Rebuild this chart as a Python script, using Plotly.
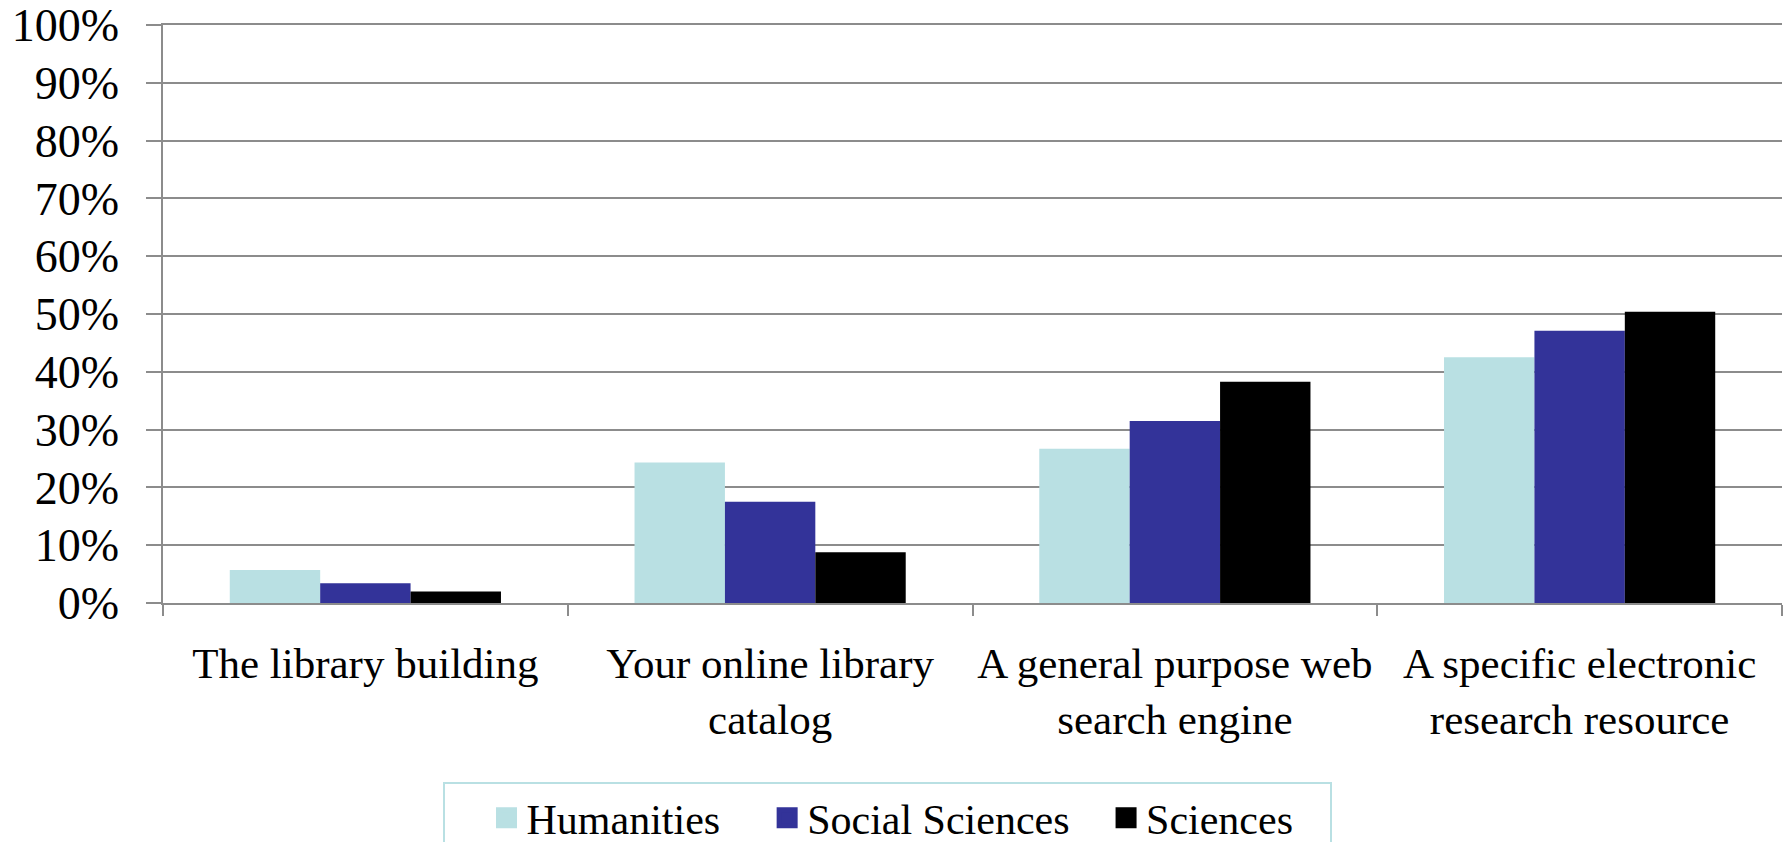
import plotly.graph_objects as go

categories = ["The library building", "Your online library<br>catalog",
              "A general purpose web<br>search engine", "A specific electronic<br>research resource"]
humanities = [0.057, 0.243, 0.267, 0.425]
social_sciences = [0.034, 0.175, 0.315, 0.471]
sciences = [0.020, 0.088, 0.383, 0.504]
series_names = ["Humanities", "Social Sciences", "Sciences"]
legend_pad = [4, 3, 3]  # trailing non-breaking spaces for legend spacing
colors = ["#B9E0E3", "#333399", "#000000"]
y_ticks = [i / 10 for i in range(11)]

FONT = "Liberation Serif"
NB = "\u00a0"
# the page body has an 8px margin, so the figure is sized to fit the window
W, H = 1783, 834
fig = go.Figure()
for name, vals, col in zip(series_names, [humanities, social_sciences, sciences], colors):
    fig.add_trace(go.Bar(x=categories, y=vals, name=name, showlegend=False,
                         marker=dict(color=col, line=dict(width=0))))
for name, col, pad in zip(series_names, colors, legend_pad):
    fig.add_trace(go.Scatter(x=[None], y=[None], mode="markers", name=name + NB * pad,
                             marker=dict(symbol="square", size=16, color=col,
                                         line=dict(color=col, width=5)),
                             hoverinfo="skip"))

fig.update_layout(
    width=W, height=H,
    margin=dict(l=155, r=9, t=17, b=239),
    barmode="group", bargap=0.33, bargroupgap=0,
    plot_bgcolor="white", paper_bgcolor="white",
    font=dict(family=FONT, size=42, color="black"),
    legend=dict(orientation="h", xref="container", x=879.5 / W, xanchor="center",
                yref="container", y=1 - 774 / H, yanchor="top",
                bordercolor="#B9E0E3", borderwidth=2,
                title=dict(text=NB * 3, side="left", font=dict(family=FONT, size=42)),
                font=dict(family=FONT, size=42, color="black")),
    showlegend=True,
)
fig.update_yaxes(range=[0, 1], tickvals=y_ticks, tickformat=".0%", automargin=False,
                 tickfont=dict(family=FONT, size=46, color="black"),
                 ticklabeloverflow="allow",
                 showgrid=True, gridcolor="#8c8c8c", gridwidth=1.5,
                 showline=True, linecolor="#8c8c8c", linewidth=1.5,
                 ticks="outside", ticklen=15, tickcolor="#8c8c8c", tickwidth=1.5,
                 ticklabelstandoff=18, zeroline=False)
fig.update_xaxes(showline=True, mirror=True, linecolor="#8c8c8c", linewidth=1.5, automargin=False,
                 tickfont=dict(family=FONT, size=43, color="black"),
                 ticks="outside", tickson="boundaries", ticklen=11,
                 ticklabelstandoff=22,
                 tickcolor="#8c8c8c", tickwidth=1.5, showgrid=False)
fig.write_html("out.html")
